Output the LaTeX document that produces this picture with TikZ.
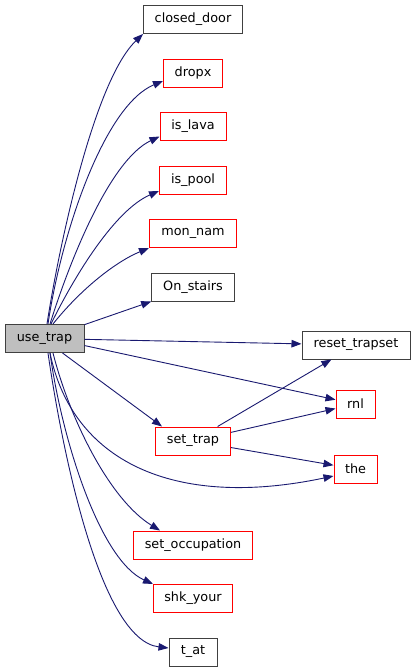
\documentclass[tikz,border=0pt]{standalone}
\usepackage{fontspec}
\setmainfont{DejaVu Sans}
\usetikzlibrary{arrows.meta,positioning}

\definecolor{edgeblue}{HTML}{191970}
\definecolor{boxgray}{HTML}{BFBFBF}
\definecolor{boxline}{HTML}{404040}

\begin{document}
\begin{tikzpicture}[
            x=1pt, y=-1pt,
            font=\fontsize{12.8}{15}\selectfont,
            fn/.style={rectangle, draw=boxline, line width=1pt,
                                    minimum height=28pt, inner sep=2pt},
            undoc/.style={fn, draw=red},
            call/.style={draw=edgeblue, line width=0.9pt,
                                    -{Triangle[length=10pt,width=7.5pt]}}
        ]

        \fill[white] (0,0) rectangle (416,672);
        \useasboundingbox (0,0) rectangle (416,672);

        % Caller
        \node[fn, fill=boxgray, minimum width=79pt] (use_trap) at (44.5,338.5) {use\_trap};

        % Upper column
        \node[fn, minimum width=99pt] (closed_door) at (193,19.5) {closed\_door};
        \node[undoc, minimum width=59pt, below=24.5pt of closed_door] (dropx) {dropx};
        \node[undoc, minimum width=66pt, below=24.5pt of dropx] (is_lava) {is\_lava};
        \node[undoc, minimum width=67pt, below=24.5pt of is_lava] (is_pool) {is\_pool};
        \node[undoc, minimum width=87pt, below=24.5pt of is_pool] (mon_nam) {mon\_nam};
        \node[fn, minimum width=83pt, below=24.5pt of mon_nam] (On_stairs) {On\_stairs};

        % Lower column
        \node[undoc, minimum width=75pt] (set_trap) at (193,441) {set\_trap};
        \node[undoc, minimum width=119pt, below=75pt of set_trap] (set_occupation) {set\_occupation};
        \node[undoc, minimum width=79pt, below=24.5pt of set_occupation] (shk_your) {shk\_your};
        \node[fn, minimum width=48pt, below=24.5pt of shk_your] (t_at) {t\_at};

        % Right column
        \node[fn, minimum width=108pt] (reset_trapset) at (356,345) {reset\_trapset};
        \node[undoc, minimum width=39pt] (rnl) at (355.5,404) {rnl};
        \node[undoc, minimum width=43pt] (the) at (355.5,469) {the};

        % Calls from use_trap
        \draw[call] ([xshift=2.5pt]use_trap.north) .. controls (60,240) and (95,80) .. (closed_door.south west);
        \draw[call] ([xshift=3.5pt]use_trap.north) .. controls (62,230) and (105,105) .. ([yshift=-8pt]dropx.west);
        \draw[call] ([xshift=5.5pt]use_trap.north) .. controls (70,260) and (110,160) .. ([yshift=-10pt]is_lava.west);
        \draw[call] ([xshift=6.5pt]use_trap.north) .. controls (75,275) and (115,210) .. ([yshift=-11pt]is_pool.west);
        \draw[call] ([xshift=8.5pt]use_trap.north) .. controls (80,290) and (115,262) .. (mon_nam.south west);
        \draw[call] (use_trap) -- (On_stairs);
        \draw[call] (use_trap) -- (reset_trapset);
        \draw[call] (use_trap.-10) -- (rnl);
        \draw[call] ([xshift=18pt]use_trap.south) -- ([xshift=7pt]set_trap.north west);
        \draw[call] ([xshift=5.5pt]use_trap.south) .. controls (72,460) and (172,510) .. ([yshift=-7pt]the.west);
        \draw[call] ([xshift=8.5pt]use_trap.south) .. controls (70,420) and (110,500) .. ([xshift=27pt]set_occupation.north west);
        \draw[call] ([xshift=5.5pt]use_trap.south) .. controls (62,440) and (100,560) .. (shk_your.north west);
        \draw[call] ([xshift=3.5pt]use_trap.south) .. controls (62,450) and (100,640) .. ([yshift=4pt]t_at.west);

        % Calls from set_trap
        \draw[call] (set_trap) -- (reset_trapset);
        \draw[call] (set_trap) -- (rnl);
        \draw[call] (set_trap) -- (the);

        \end{tikzpicture}
\end{document}
